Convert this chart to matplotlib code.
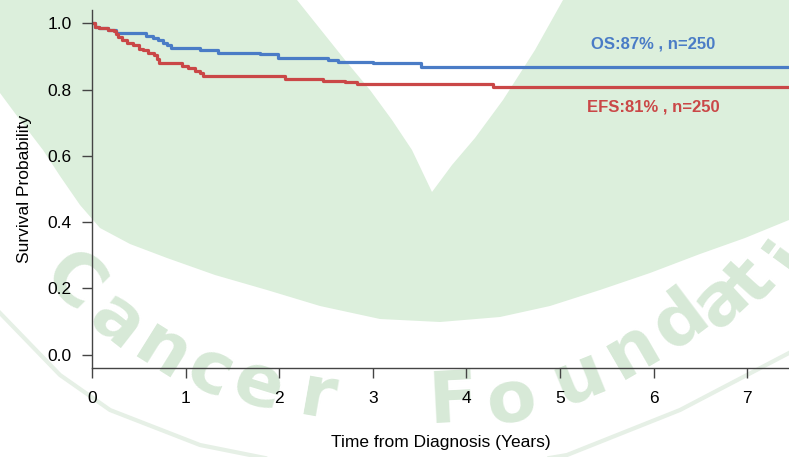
import matplotlib as mpl
mpl.use('Agg')
import matplotlib.pyplot as plt
from matplotlib.patches import Polygon
import numpy as np

plt.rcParams['font.family'] = ['Liberation Sans', 'DejaVu Sans']

# Kaplan-Meier steps (time in years, survival)
os_t = [0.00, 0.03, 0.07, 0.17, 0.26, 0.58, 0.65, 0.71, 0.76, 0.80, 0.84,
        1.15, 1.35, 1.80, 1.99, 2.52, 2.63, 3.00, 3.52, 7.60]
os_s = [1.000, 0.990, 0.985, 0.981, 0.971, 0.963, 0.955, 0.948, 0.941,
        0.933, 0.926, 0.918, 0.911, 0.906, 0.896, 0.890, 0.883, 0.879,
        0.869, 0.869]
efs_t = [0.00, 0.03, 0.07, 0.17, 0.23, 0.26, 0.28, 0.32, 0.37, 0.44, 0.50,
         0.55, 0.60, 0.66, 0.69, 0.72, 0.96, 1.03, 1.10, 1.15, 1.19, 2.06,
         2.47, 2.70, 2.83, 4.28, 7.60]
efs_s = [1.000, 0.990, 0.985, 0.981, 0.978, 0.968, 0.958, 0.948, 0.941,
         0.933, 0.923, 0.918, 0.911, 0.903, 0.893, 0.881, 0.872, 0.864,
         0.857, 0.850, 0.842, 0.832, 0.827, 0.822, 0.817, 0.809, 0.809]

os_label = 'OS:87% , n=250'
efs_label = 'EFS:81% , n=250'
xticks = [0, 1, 2, 3, 4, 5, 6, 7]
yticks = [0.0, 0.2, 0.4, 0.6, 0.8, 1.0]

blue = '#4a7cc6'
red = '#ca4747'
green = '#dcefdc'
letter_green = '#d7e9d7'

W, H = 789, 457
fig = plt.figure(figsize=(W / 100, H / 100), dpi=100)
fig.patch.set_facecolor('white')


def draw_watermark():
    """pale logo behind the plot, drawn in pixel coords"""
    bg = fig.add_axes([0, 0, 1, 1], zorder=0)
    bg.set_xlim(0, W)
    bg.set_ylim(H, 0)
    bg.axis('off')
    # green leaf with the V notch on top
    shape = [(-5, -5), (297, -5), (297, 0), (313, 20), (345, 60), (370, 90),
             (392, 120), (412, 150), (432, 192), (452, 165), (475, 138),
             (503, 100), (535, 50), (563, 0), (563, -5), (W + 5, -5),
             (W + 5, 218), (789, 220), (745, 238), (700, 254), (650, 273),
             (600, 290), (550, 306), (500, 317), (440, 322), (380, 319),
             (320, 306), (267, 290), (215, 275), (167, 258), (130, 244),
             (100, 228), (80, 205), (60, 176), (43, 150), (20, 120), (0, 93),
             (-5, 90)]
    bg.add_patch(Polygon(shape, color=green, lw=0, zorder=1))
    # faint outer edge of the ring
    ring_x = [0, 60, 110, 200, 300, 450, 567, 680, 789]
    ring_y = [313, 375, 410, 445, 465, 475, 455, 410, 353]
    bg.plot(ring_x, ring_y, color='#e6f0e6', lw=3, zorder=1)
    letters = 'CancerFoundati'
    pos = [(72, 283), (117, 323), (162, 353), (210, 373), (258, 387), (318, 398),
           (453, 402), (512, 402), (580, 378), (632, 350), (680, 320), (722, 300),
           (752, 282), (790, 258)]
    rot = [-45, -38, -32, -24, -17, -10, 3, 10, 22, 30, 37, 43, 48, 54]
    for ch, (px, py), r in zip(letters, pos, rot):
        bg.text(px, py, ch, fontsize=52, fontweight='bold', color=letter_green,
                family='DejaVu Sans', rotation=r, ha='center', va='center',
                zorder=2)


draw_watermark()

ax = fig.add_axes([92 / W, 89 / H, (W - 92) / W, (368 - 10) / H], zorder=1)
ax.patch.set_alpha(0)

ax.plot(os_t, os_s, drawstyle='steps-post', color=blue, lw=2.3)
ax.plot(efs_t, efs_s, drawstyle='steps-post', color=red, lw=2.3)

ax.text(6.0, 0.937, os_label, color=blue, fontsize=12, fontweight='bold',
        ha='center', va='center')
ax.text(6.0, 0.747, efs_label, color=red, fontsize=12, fontweight='bold',
        ha='center', va='center')

ax.set_xlim(0, (W - 92) / 93.6)
ax.set_ylim(-0.04, 1.04)
ax.set_xticks(xticks)
ax.set_yticks(yticks)
ax.set_yticklabels(['{:.1f}'.format(v) for v in yticks])

for s in ('top', 'right'):
    ax.spines[s].set_visible(False)
for s in ('left', 'bottom'):
    ax.spines[s].set_color('#444444')
    ax.spines[s].set_linewidth(1.0)

ax.tick_params(axis='both', direction='out', length=7.2, width=1.0,
               color='#444444', labelsize=12.5, labelcolor='black')
ax.tick_params(axis='x', pad=9.5)
ax.tick_params(axis='y', pad=7.5)

ax.set_xlabel('Time from Diagnosis (Years)', fontsize=12.5)
ax.set_ylabel('Survival Probability', fontsize=12.5)
ax.xaxis.set_label_coords(0.5, -0.187)
ax.yaxis.set_label_coords(-0.086, 0.5)

fig.savefig('out.png', dpi=100)
